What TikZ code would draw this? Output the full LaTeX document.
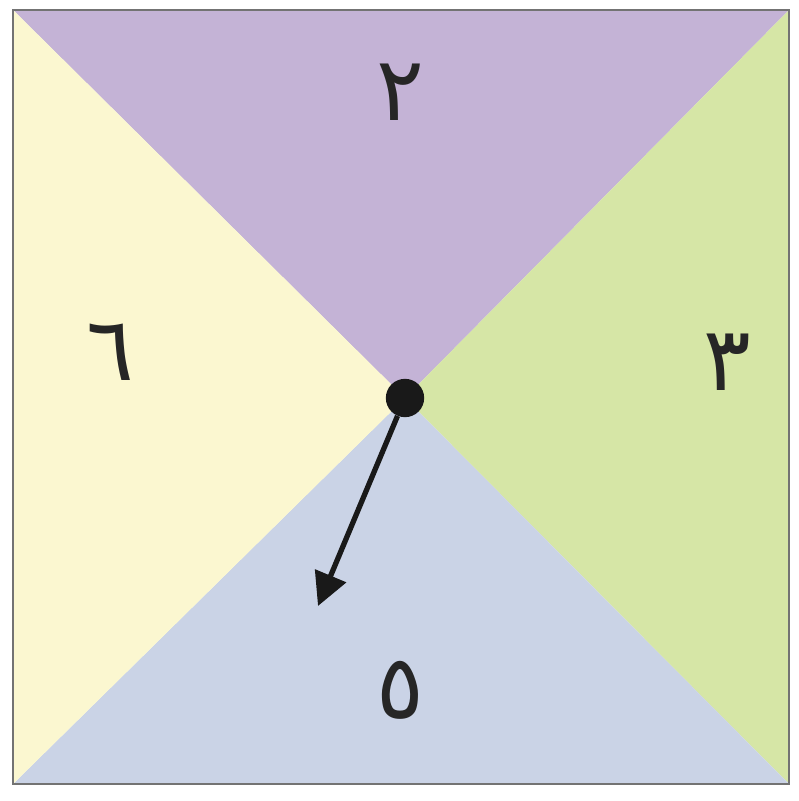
\documentclass[tikz,border=0pt]{standalone}
\usepackage{fontspec}
\newfontfamily\arabicfont[Script=Arabic]{DejaVu Sans}
\TeXXeTstate=1
\usepackage{tikz}
\usetikzlibrary{arrows.meta}

\definecolor{topc}{RGB}{196,179,214}
\definecolor{rightc}{RGB}{214,230,166}
\definecolor{bottomc}{RGB}{202,211,230}
\definecolor{leftc}{RGB}{251,247,208}

\begin{document}
\begin{tikzpicture}[x=0.03cm, y=-0.03cm, >=Triangle,
  digit/.style={font=\arabicfont\fontsize{76}{76}\selectfont, text=black!85}]
  \useasboundingbox (0,0) rectangle (798,801);
  % corners of the board
  \coordinate (tl) at (13,10);
  \coordinate (tr) at (789,10);
  \coordinate (br) at (789,784);
  \coordinate (bl) at (13,784);
  \coordinate (c) at (405,398);
  % four sectors
  \fill[topc] (tl) -- (tr) -- (c) -- cycle;
  \fill[rightc] (tr) -- (br) -- (c) -- cycle;
  \fill[bottomc] (br) -- (bl) -- (c) -- cycle;
  \fill[leftc] (bl) -- (tl) -- (c) -- cycle;
  \draw[black!55, line width=1.6pt] (tl) rectangle (br);
  % labels
  \node[digit] (two) at (400,92) {\beginR ٢\endR};
  \node[digit] (three) at (727,362) {\beginR ٣\endR};
  \node[digit] (five) at (400,690) {\beginR ٥\endR};
  \node[digit] (six) at (110,352) {\beginR ٦\endR};
  % pointer
  \node[circle, fill=black!90, minimum size=1.15cm, inner sep=0pt] (hub) at (c) {};
  \coordinate (tip) at (318,606);
  \draw[->, line width=4.5pt, black!90, >={Triangle[length=28pt, width=28pt]}] (hub) -- (tip);
\end{tikzpicture}
\end{document}
